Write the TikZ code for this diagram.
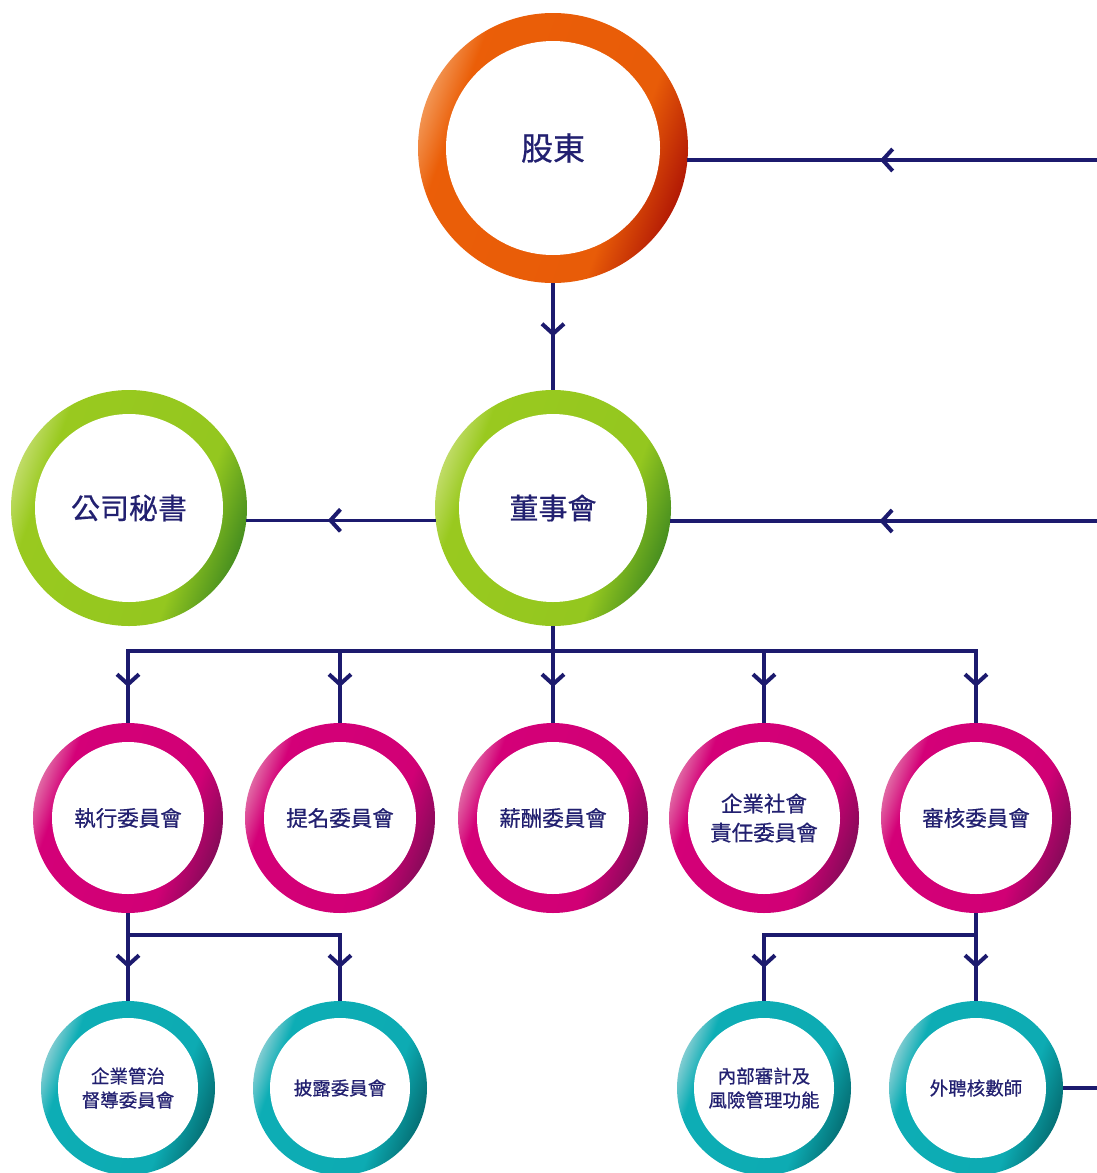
\documentclass[tikz,border=0pt]{standalone}
\usepackage{fontspec}
\newfontfamily\cjk[FakeBold=0.6]{Noto Sans CJK TC}
\usetikzlibrary{arrows.meta,decorations.markings}
\definecolor{navy}{RGB}{28,26,110}
\definecolor{txt}{RGB}{34,32,112}
\pgfdeclarehorizontalshading{shOrange}{100bp}{rgb(0bp)=(0.95,0.58,0.32); rgb(25bp)=(0.95,0.58,0.32); rgb(31bp)=(0.92,0.37,0.03); rgb(64bp)=(0.91,0.36,0.03); rgb(75bp)=(0.70,0.10,0.02); rgb(100bp)=(0.70,0.10,0.02)}
\pgfdeclarehorizontalshading{shGreen}{100bp}{rgb(0bp)=(0.75,0.86,0.40); rgb(25bp)=(0.75,0.86,0.40); rgb(31bp)=(0.60,0.79,0.12); rgb(64bp)=(0.58,0.78,0.12); rgb(75bp)=(0.28,0.56,0.12); rgb(100bp)=(0.28,0.56,0.12)}
\pgfdeclarehorizontalshading{shPink}{100bp}{rgb(0bp)=(0.88,0.40,0.64); rgb(25bp)=(0.88,0.40,0.64); rgb(31bp)=(0.83,0.00,0.47); rgb(64bp)=(0.82,0.00,0.46); rgb(75bp)=(0.53,0.04,0.35); rgb(100bp)=(0.53,0.04,0.35)}
\pgfdeclarehorizontalshading{shTeal}{100bp}{rgb(0bp)=(0.50,0.80,0.82); rgb(25bp)=(0.50,0.80,0.82); rgb(31bp)=(0.05,0.68,0.71); rgb(64bp)=(0.05,0.67,0.70); rgb(75bp)=(0.02,0.44,0.46); rgb(100bp)=(0.02,0.44,0.46)}
\tikzset{
  ring/.style={circle, inner sep=0pt, outer sep=0pt, minimum size=#1, shade, shading angle=-20, text=txt, align=center},
  hole/.style={path picture={\fill[white] (path picture bounding box.center) circle (#1);}},
  top/.style={ring=270pt, hole=107, shading=shOrange, font=\cjk\fontsize{32}{38}\selectfont},
  mid/.style={ring=236pt, hole=94, shading=shGreen, font=\cjk\fontsize{29}{34}\selectfont},
  comm/.style={ring=190pt, hole=76, shading=shPink, font=\cjk\fontsize{21.5}{29}\selectfont},
  sub/.style={ring=174pt, hole=70, shading=shTeal, font=\cjk\fontsize{18.5}{24}\selectfont},
  conn/.style={navy, line width=3.5pt},
  arr/.style={postaction={decorate}, decoration={markings, mark=at position #1 with {\arrow{Straight Barb[length=10pt,width=22pt,line width=4pt]}}}},
  arr/.default=0.5
}
\begin{document}
\begin{tikzpicture}[x=1pt,y=-1pt]
\useasboundingbox (0,0) rectangle (1097,1173);
% nodes
\node[top] (sh) at (553,148) {股東};
\node[mid] (bd) at (553,508) {董事會};
\node[mid] (cs) at (129,508) {公司秘書};
\node[comm] (p1) at (128,818) {執行委員會};
\node[comm] (p2) at (340,818) {提名委員會};
\node[comm] (p3) at (553,818) {薪酬委員會};
\node[comm] (p4) at (764,818) {企業社會\\責任委員會};
\node[comm] (p5) at (976,818) {審核委員會};
\node[sub] (t1) at (128,1088) {企業管治\\督導委員會};
\node[sub] (t2) at (340,1088) {披露委員會};
\node[sub] (t3) at (764,1088) {內部審計及\\風險管理功能};
\node[sub] (t4) at (976,1088) {外聘核數師};
% coordinates
\coordinate (in1) at (1097,160);
\coordinate (in2) at (1097,521);
\coordinate (out1) at (1097,1088);
\coordinate (bus) at (553,651);
\coordinate (busL) at (128,935);
\coordinate (busR) at (976,935);
% connectors
\draw[conn,arr] (sh.south) -- (bd.north);
\draw[conn,arr=0.53] (in1) -- (in1 -| sh.-5);
\draw[conn,arr=0.51] (in2) -- (in2 -| bd.-6);
\draw[conn,arr=0.57] (bd.186) -- (bd.186 -| cs.-6);
\draw[conn] (bd.south) -- (bus);
\draw[conn] (p1.north) |- (bus) -| (p5.north);
\draw[conn,arr] (bus -| p1) -- (p1.north);
\draw[conn,arr] (bus -| p2) -- (p2.north);
\draw[conn,arr] (bus) -- (p3.north);
\draw[conn,arr] (bus -| p4) -- (p4.north);
\draw[conn,arr] (bus -| p5) -- (p5.north);
\draw[conn] (p1.south) -- (busL) -| (t2.north);
\draw[conn,arr] (busL) -- (t1.north);
\draw[conn,arr] (busL -| t2) -- (t2.north);
\draw[conn] (p5.south) -- (busR) -| (t3.north);
\draw[conn,arr] (busR) -- (t4.north);
\draw[conn,arr] (busR -| t3) -- (t3.north);
\draw[conn] (t4.east) -- (out1);
\end{tikzpicture}
\end{document}
